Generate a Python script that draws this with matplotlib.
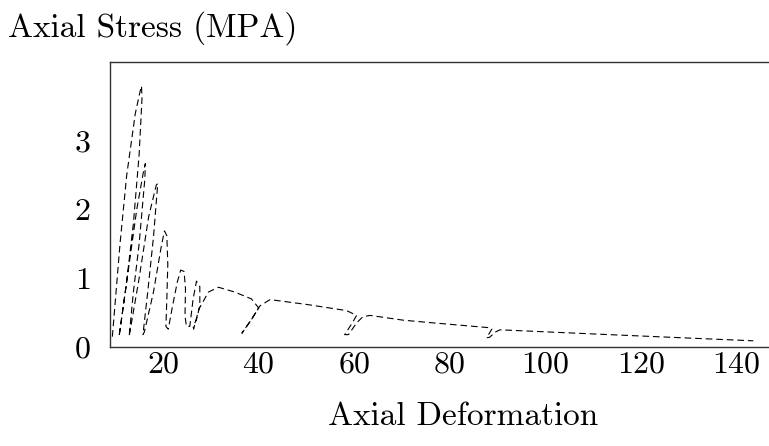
import matplotlib
matplotlib.use("Agg")
import matplotlib.pyplot as plt

plt.rcParams['font.family'] = ['cmr10', 'DejaVu Serif']
plt.rcParams['axes.formatter.use_mathtext'] = True

# Dehnung (Axial Deformation) und Spannung (MPA), ein durchgehender Pfad mit Be- und Entlastungszyklen
deformation = [
    9.4, 11.0, 12.4, 14.2, 15.2, 15.5, 15.6, 15.0, 13.8, 12.3, 10.8,
    12.5, 14.5, 15.9, 16.3, 16.2, 15.0, 13.8, 12.9,
    15.0, 17.0, 18.6, 18.9, 18.0, 16.8, 15.8, 16.1,
    18.0, 19.6, 20.3, 20.8, 21.0, 20.8, 20.6, 21.1,
    22.0, 23.0, 23.7, 24.4, 24.7, 24.6, 24.9, 25.6,
    26.3, 27.0, 27.7, 27.7, 27.0, 26.3, 26.4,
    27.5, 29.5, 31.6, 35.0, 38.5, 40.0, 38.5, 36.5,
    38.5, 40.3, 42.4, 50.0, 58.4, 60.5, 59.6, 58.0, 58.8,
    60.5, 61.8, 63.3, 70.3, 75.9, 88.4, 88.8, 87.7, 88.3,
    89.6, 90.5, 110.0, 130.0, 143.5,
]
stress = [
    0.15, 1.50, 2.50, 3.40, 3.72, 3.80, 3.62, 2.80, 1.80, 0.90, 0.15,
    1.00, 2.00, 2.55, 2.67, 2.45, 1.50, 0.80, 0.15,
    1.00, 1.90, 2.36, 2.38, 1.60, 0.80, 0.18, 0.22,
    0.80, 1.45, 1.69, 1.62, 1.20, 0.70, 0.30, 0.26,
    0.60, 0.95, 1.12, 1.10, 0.85, 0.45, 0.30, 0.30,
    0.70, 0.96, 0.88, 0.60, 0.40, 0.30, 0.26,
    0.55, 0.80, 0.87, 0.80, 0.70, 0.57, 0.40, 0.20,
    0.40, 0.60, 0.69, 0.62, 0.53, 0.46, 0.35, 0.18, 0.18,
    0.35, 0.44, 0.46, 0.39, 0.355, 0.28, 0.26, 0.135, 0.14,
    0.22, 0.25, 0.19, 0.13, 0.09,
]

xticks = [20, 40, 60, 80, 100, 120, 140]
yticks = [0, 1, 2, 3]

fig = plt.figure(figsize=(7.69, 4.46), dpi=100)
# Achse reicht rechts ueber den Bildrand hinaus (wie im Original abgeschnitten)
ax = fig.add_axes([0.143, 0.222, 0.918, 0.639])

ax.plot(deformation, stress, color="black", linewidth=0.8, linestyle=(0, (6, 3.5)))

ax.set_xlim(8.9, 156.6)
ax.set_ylim(0, 4.15)
ax.set_xticks(xticks)
ax.set_yticks(yticks)
ax.tick_params(length=0, labelsize=23, pad=3)
ax.tick_params(axis="y", pad=14)

ax.spines['right'].set_visible(False)
for s in ['left', 'top', 'bottom']:
    ax.spines[s].set_linewidth(1.0)
    ax.spines[s].set_color('#333333')

ax.set_xlabel("Axial Deformation", fontsize=24, labelpad=17)
fig.text(0.01, 0.937, "Axial Stress (MPA)", fontsize=24, va="center", ha="left")

fig.savefig("out.png", dpi=100)
